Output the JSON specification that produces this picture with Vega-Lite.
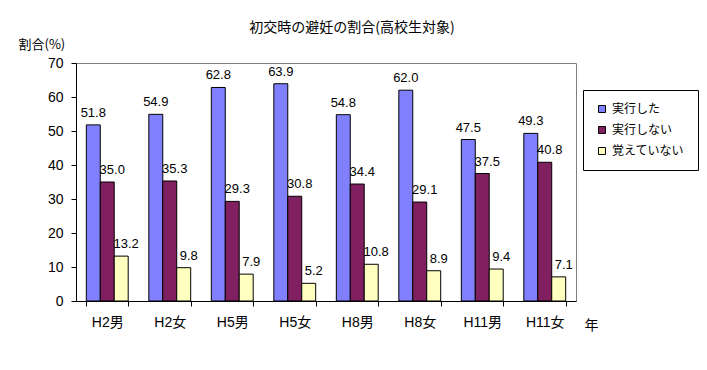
{
  "$schema": "https://vega.github.io/schema/vega-lite/v6.json",
  "width": 500,
  "height": 238,
  "autosize": {"type": "none"},
  "padding": {"left": 76, "top": 63, "right": 131, "bottom": 69},
  "background": "white",
  "title": {
    "text": "初交時の避妊の割合(高校生対象)",
    "font": "Noto Sans CJK JP",
    "fontSize": 14,
    "fontWeight": "normal",
    "color": "black",
    "anchor": "middle",
    "dx": 26,
    "offset": 3
  },
  "config": {
    "view": {"stroke": "#808080", "strokeWidth": 1},
    "font": "Liberation Sans, Noto Sans CJK JP"
  },
  "data": {
    "values": [
      {"year": "H2男", "kind": "実行した", "value": 51.8},
      {"year": "H2女", "kind": "実行した", "value": 54.9},
      {"year": "H5男", "kind": "実行した", "value": 62.8},
      {"year": "H5女", "kind": "実行した", "value": 63.9},
      {"year": "H8男", "kind": "実行した", "value": 54.8},
      {"year": "H8女", "kind": "実行した", "value": 62.0},
      {"year": "H11男", "kind": "実行した", "value": 47.5},
      {"year": "H11女", "kind": "実行した", "value": 49.3},
      {"year": "H2男", "kind": "実行しない", "value": 35.0},
      {"year": "H2女", "kind": "実行しない", "value": 35.3},
      {"year": "H5男", "kind": "実行しない", "value": 29.3},
      {"year": "H5女", "kind": "実行しない", "value": 30.8},
      {"year": "H8男", "kind": "実行しない", "value": 34.4},
      {"year": "H8女", "kind": "実行しない", "value": 29.1},
      {"year": "H11男", "kind": "実行しない", "value": 37.5},
      {"year": "H11女", "kind": "実行しない", "value": 40.8},
      {"year": "H2男", "kind": "覚えていない", "value": 13.2},
      {"year": "H2女", "kind": "覚えていない", "value": 9.8},
      {"year": "H5男", "kind": "覚えていない", "value": 7.9},
      {"year": "H5女", "kind": "覚えていない", "value": 5.2},
      {"year": "H8男", "kind": "覚えていない", "value": 10.8},
      {"year": "H8女", "kind": "覚えていない", "value": 8.9},
      {"year": "H11男", "kind": "覚えていない", "value": 9.4},
      {"year": "H11女", "kind": "覚えていない", "value": 7.1}
    ]
  },
  "encoding": {
    "x": {
      "field": "year",
      "type": "nominal",
      "sort": null,
      "scale": {"paddingInner": 0.33, "paddingOuter": 0.165},
      "axis": {
        "title": "年",
        "titleX": 515,
        "titleY": 24,
        "titleAlign": "center",
        "titleBaseline": "middle",
        "titleFont": "Noto Sans CJK JP",
        "titleFontSize": 14,
        "titleFontWeight": "normal",
        "titleColor": "black",
        "labelAngle": 0,
        "labelFontSize": 14,
        "labelColor": "black",
        "labelPadding": 9,
        "tickBand": "extent",
        "tickSize": 5,
        "tickColor": "black",
        "domainColor": "black",
        "grid": false
      }
    },
    "xOffset": {"field": "kind", "sort": ["実行した", "実行しない", "覚えていない"]},
    "y": {
      "field": "value",
      "type": "quantitative",
      "scale": {"domain": [0, 70], "nice": false},
      "axis": {
        "title": "割合(%)",
        "titleAngle": 0,
        "titleX": -58,
        "titleY": -19,
        "titleAlign": "left",
        "titleBaseline": "middle",
        "titleFont": "Noto Sans CJK JP",
        "titleFontSize": 13,
        "titleFontWeight": "normal",
        "titleColor": "black",
        "values": [0, 10, 20, 30, 40, 50, 60, 70],
        "labelFontSize": 14,
        "labelColor": "black",
        "labelPadding": 8,
        "tickSize": 5,
        "tickColor": "black",
        "domainColor": "black",
        "grid": false
      }
    }
  },
  "layer": [
    {
      "mark": {"type": "bar", "stroke": "black", "strokeWidth": 1},
      "encoding": {
        "color": {
          "field": "kind",
          "type": "nominal",
          "sort": ["実行した", "実行しない", "覚えていない"],
          "scale": {
            "domain": ["実行した", "実行しない", "覚えていない"],
            "range": ["#8080FF", "#802060", "#FFFFC0"]
          },
          "legend": {
            "title": null,
            "orient": "none",
            "legendX": 507,
            "legendY": 27,
            "padding": 13,
            "rowPadding": 9,
            "strokeColor": "black",
            "fillColor": "white",
            "symbolType": "square",
            "symbolSize": 49,
            "symbolStrokeColor": "black",
            "symbolStrokeWidth": 1,
            "symbolOpacity": 1,
            "labelFont": "Noto Sans CJK JP",
            "labelFontSize": 12,
            "labelColor": "black",
            "labelOffset": 4
          }
        }
      }
    },
    {
      "transform": [{"filter": "datum.kind === '実行した'"}],
      "mark": {"type": "text", "fontSize": 13, "dy": -8, "baseline": "alphabetic", "color": "black"},
      "encoding": {"text": {"field": "value", "format": ".1f"}}
    },
    {
      "transform": [{"filter": "datum.kind !== '実行した'"}],
      "mark": {"type": "text", "fontSize": 13, "dy": -8, "dx": 5, "baseline": "alphabetic", "color": "black"},
      "encoding": {"text": {"field": "value", "format": ".1f"}}
    }
  ]
}
